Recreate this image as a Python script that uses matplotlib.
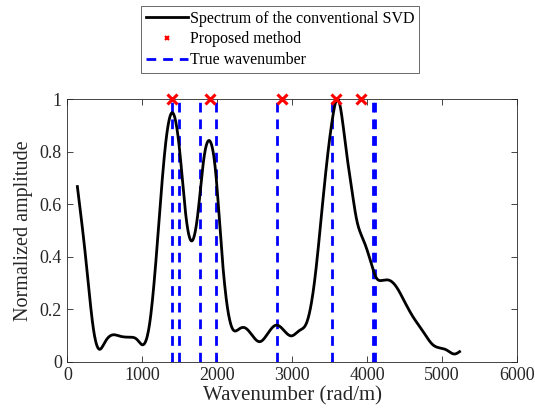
import numpy as np
import matplotlib
matplotlib.use("Agg")
import matplotlib.pyplot as plt
from matplotlib.lines import Line2D

plt.rcParams['font.family'] = ['Liberation Serif', 'DejaVu Serif']

# Conventional SVD spectrum (wavenumber, normalized amplitude)
spec_k = [133, 250, 350, 427, 500, 605, 700, 836, 930, 1005, 1100, 1200, 1300,
          1400, 1500, 1580, 1658, 1740, 1820, 1903, 1980, 2060, 2140, 2213,
          2290, 2369, 2470, 2569, 2680, 2791, 2890, 2991, 3100, 3191, 3302,
          3413, 3480, 3547, 3600, 3650, 3724, 3790, 3858, 3950, 4036, 4124,
          4200, 4302, 4391, 4500, 4613, 4750, 4880, 5058, 5169, 5236]
spec_amp = [0.667, 0.38, 0.12, 0.048, 0.075, 0.103, 0.098, 0.094, 0.085, 0.065,
            0.15, 0.45, 0.80, 0.948, 0.80, 0.56, 0.46, 0.56, 0.77, 0.84, 0.72,
            0.42, 0.20, 0.122, 0.125, 0.13, 0.10, 0.077, 0.11, 0.14, 0.12,
            0.099, 0.12, 0.147, 0.312, 0.62, 0.80, 0.94, 1.0, 0.96, 0.80, 0.67,
            0.546, 0.465, 0.394, 0.32, 0.31, 0.31, 0.286, 0.23, 0.172, 0.115,
            0.065, 0.046, 0.03, 0.039]

# Estimated wavenumbers from the proposed method
proposed_k = [1392, 1903, 2867, 3592, 3916]
proposed_amp = [1, 1, 1, 1, 1]

# True wavenumbers
true_k = [1392, 1493, 1773, 1978, 2800, 3538, 4080, 4100]


def natural_spline(x, y, xs):
    """Natural cubic spline through (x, y), evaluated at xs."""
    x = np.asarray(x, float); y = np.asarray(y, float)
    n = len(x)
    h = np.diff(x)
    A = np.zeros((n, n)); b = np.zeros(n)
    A[0, 0] = A[-1, -1] = 1.0
    for i in range(1, n - 1):
        A[i, i - 1] = h[i - 1]
        A[i, i] = 2 * (h[i - 1] + h[i])
        A[i, i + 1] = h[i]
        b[i] = 3 * ((y[i + 1] - y[i]) / h[i] - (y[i] - y[i - 1]) / h[i - 1])
    c = np.linalg.solve(A, b)
    bb = (y[1:] - y[:-1]) / h - h * (2 * c[:-1] + c[1:]) / 3
    d = (c[1:] - c[:-1]) / (3 * h)
    idx = np.clip(np.searchsorted(x, xs) - 1, 0, n - 2)
    t = xs - x[idx]
    return y[idx] + bb[idx] * t + c[idx] * t ** 2 + d[idx] * t ** 3


fig = plt.figure(figsize=(5.35, 4.16), dpi=100)
ax = fig.add_axes([0.126, 0.130, 0.840, 0.632])

kk = np.linspace(spec_k[0], spec_k[-1], 1000)
aa = natural_spline(spec_k, spec_amp, kk)

ax.plot(kk, aa, color='black', lw=2.0, zorder=3)
for k in true_k:
    ax.axvline(k, color='#0000ff', lw=2.0, ls=(0, (3.5, 2.5)), zorder=2)
ax.plot(proposed_k, proposed_amp, ls='none', marker='x', color='red',
        ms=7, mew=2.2, zorder=4, clip_on=False)

ax.set_xlim(0, 6000)
ax.set_ylim(0, 1)
ax.set_xticks([0, 1000, 2000, 3000, 4000, 5000, 6000])
ax.set_yticks([0, 0.2, 0.4, 0.6, 0.8, 1])
ax.set_yticklabels(['0', '0.2', '0.4', '0.6', '0.8', '1'])
ax.tick_params(direction='in', length=4, width=0.6, labelsize=13,
               colors='#262626', top=True, right=True, pad=4)
for s in ax.spines.values():
    s.set_color('#262626'); s.set_linewidth(0.6)
ax.set_xlabel('Wavenumber (rad/m)', fontsize=15, color='#262626', labelpad=1)
ax.set_ylabel('Normalized amplitude', fontsize=14.5, color='#262626', labelpad=5)

handles = [Line2D([], [], color='black', lw=2.0),
           Line2D([], [], ls='none', marker='x', color='red', ms=3.5, mew=1.5),
           Line2D([], [], color='#0000ff', lw=2.0, ls=(0, (3.5, 2.5)))]
labels = ['Spectrum of the conventional SVD', 'Proposed method', 'True wavenumber']
leg = fig.legend(handles, labels, loc='upper center', bbox_to_anchor=(0.524, 0.986),
                 fontsize=11.5, frameon=True, fancybox=False, edgecolor='#262626',
                 handlelength=2.6, handletextpad=0.15, labelspacing=0.3,
                 borderpad=0.3, borderaxespad=0)
leg.get_frame().set_linewidth(0.6)

fig.savefig('out.png', dpi=100)
